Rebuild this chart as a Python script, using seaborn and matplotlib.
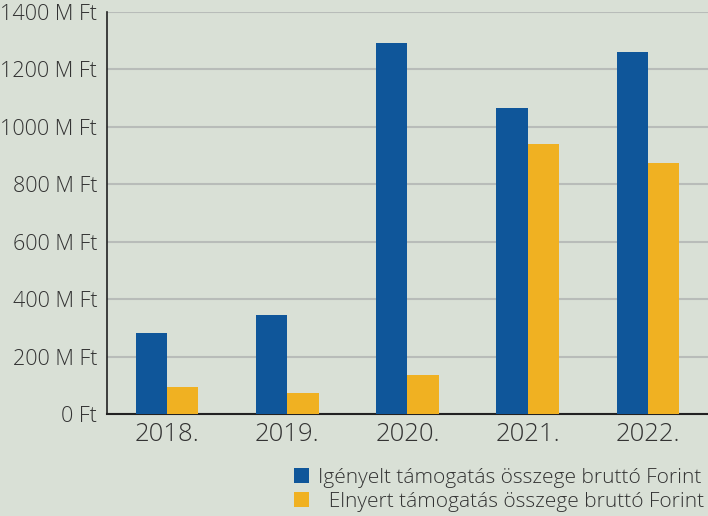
import numpy as np
import pandas as pd
import matplotlib
matplotlib.use('Agg')
import matplotlib.pyplot as plt
from matplotlib.patches import Patch
import seaborn as sns

# Adatok (M Ft)
years = ['2018.', '2019.', '2020.', '2021.', '2022.']
igenyelt = [282, 345, 1292, 1066, 1261]
elnyert = [94, 73, 136, 940, 874]
series_names = ['Igényelt támogatás összege bruttó Forint',
                'Elnyert támogatás összege bruttó Forint']
y_ticks = [0, 200, 400, 600, 800, 1000, 1200, 1400]
y_tick_labels = ['0 Ft', '200 M Ft', '400 M Ft', '600 M Ft', '800 M Ft',
                 '1000 M Ft', '1200 M Ft', '1400 M Ft']

df = pd.DataFrame({
    'ev': years * 2,
    'ertek': igenyelt + elnyert,
    'tipus': [series_names[0]] * len(years) + [series_names[1]] * len(years),
})

bg = '#d9e0d6'
colors = ['#0f569a', '#f0b122']
text_col = '#333333'

sns.set_theme(style='white')
plt.rcParams['font.family'] = ['Open Sans', 'DejaVu Sans']
plt.rcParams['font.weight'] = 'light'

fig = plt.figure(figsize=(7.08, 5.16), dpi=100, facecolor=bg)
ax = fig.add_axes([0.1511, 0.1977, 0.8489, 0.7790])
ax.set_facecolor(bg)

sns.barplot(data=df, x='ev', y='ertek', hue='tipus', palette=colors,
            width=0.52, saturation=1, ax=ax, legend=False, zorder=3,
            linewidth=0, edgecolor='none')

ax.set_xlim(-0.5, 4.5)
ax.set_ylim(0, 1400)
ax.set_yticks(y_ticks)
ax.set_yticklabels(y_tick_labels)
ax.grid(axis='y', color='#b8bcb9', linewidth=1.5, zorder=0)
ax.set_axisbelow(True)
ax.set_xlabel('')
ax.set_ylabel('')

for s in ['top', 'right']:
    ax.spines[s].set_visible(False)
ax.spines['left'].set_color('#222222')
ax.spines['left'].set_linewidth(1.2)
ax.spines['bottom'].set_color('#222222')
ax.spines['bottom'].set_linewidth(1.5)

ax.tick_params(axis='y', length=5, width=1.2, color='#b8bcb9', pad=2,
               labelsize=15.5, labelcolor=text_col)
ax.tick_params(axis='x', length=0, pad=6, labelsize=18.5, labelcolor=text_col)

handles = [Patch(facecolor=c, edgecolor='none') for c in colors]
labels = [series_names[0], '  ' + series_names[1]]
fig.legend(handles, labels, loc='lower right', bbox_to_anchor=(1.0, 0.0),
           frameon=False, fontsize=15, labelcolor=text_col,
           handlelength=0.75, handleheight=0.75, handletextpad=0.4,
           labelspacing=0.2, borderpad=0.1, borderaxespad=0.1)

fig.savefig('out.png', dpi=100, facecolor=bg)
